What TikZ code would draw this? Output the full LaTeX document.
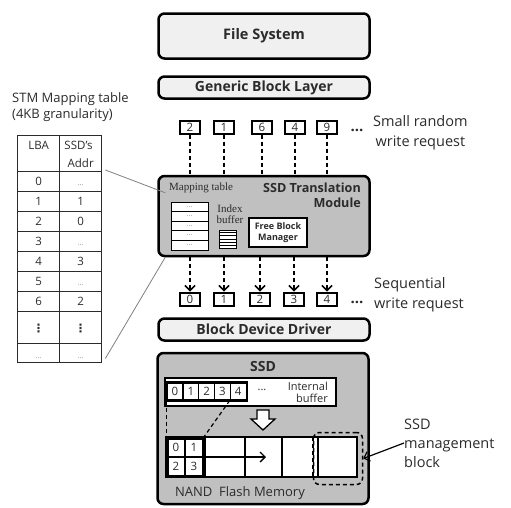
\documentclass[tikz,border=0pt]{standalone}
\usepackage{fontspec}
\usepackage{array}
\usepackage{tikz}
\setmainfont{Open Sans}
\newfontfamily\serifface{Liberation Serif}
\newfontfamily\symface{DejaVu Sans}
\usetikzlibrary{arrows.meta, positioning, calc}
\definecolor{PaleGray}{HTML}{F0F0F0}
\definecolor{BoxGray}{HTML}{C0C0C0}
\definecolor{InkGray}{HTML}{2B2B2B}
\newcolumntype{C}[1]{>{\centering\arraybackslash}p{#1}}
\newcommand{\celldots}{\leavevmode{\color{gray}\fontsize{7}{7}\selectfont\ldots}}
\newcommand{\colvdots}{{\symface\bfseries ⋮}}

\tikzset{
  layer/.style={draw=black, line width=2.5pt, rounded corners=6pt, fill=PaleGray,
                text=InkGray, font=\bfseries\fontsize{14}{16}\selectfont,
                inner sep=0pt, minimum width=211pt},
  module/.style={layer, fill=BoxGray},
  reqbox/.style={draw=black, line width=2pt, fill=white, minimum width=20pt,
                 minimum height=13pt, inner sep=0pt, text=InkGray,
                 font=\fontsize{11.5}{11.5}\selectfont},
  reqline/.style={line width=1.5pt, dash pattern=on 4pt off 3pt},
  note/.style={text=InkGray, font=\fontsize{14.5}{20}\selectfont, inner sep=0pt},
  serifnote/.style={text=InkGray, font=\serifface\fontsize{11}{11.5}\selectfont, inner sep=0pt},
  maprow/.style={draw=black, line width=1pt, fill=white, minimum width=37pt,
                 minimum height=9.6pt, inner sep=0pt},
  bufcell/.style={draw=black, line width=1.2pt, fill=white, minimum width=15.8pt,
                  minimum height=17pt, inner sep=0pt, text=InkGray,
                  font=\fontsize{11.5}{11.5}\selectfont},
  pgcell/.style={draw=black, line width=1.2pt, minimum width=17pt, minimum height=18pt,
                 inner sep=0pt, text=InkGray, font=\fontsize{11.5}{11.5}\selectfont},
  barb/.tip={Straight Barb[length=5pt, width=10pt]}
}

\begin{document}
\begin{tikzpicture}[x=1pt, y=-1pt]
\useasboundingbox (0,0) rectangle (511,507);

% host side layers
\node[layer, minimum height=45pt, font=\bfseries\fontsize{14.5}{16}\selectfont] (fs) at (264,36) {File System};
\node[layer, minimum height=22pt] (gbl) at (264,87.5) {Generic Block Layer};
\node[module, minimum height=80pt] (stm) at (264,216) {};
\node[layer, minimum height=22pt] (bdd) at (264,329.5) {Block Device Driver};
\node[module, minimum height=151pt] (ssd) at (263,428.5) {};

% random requests
\foreach \n/\x/\s in {1/190/2, 2/224/1, 3/262/6, 4/295/4, 5/327/9} {
  \node[reqbox] (rnd\n) at (\x,127) {\s};
  \draw[reqline] (rnd\n.south) -- (rnd\n.south |- stm.north);
}
\node[anchor=base, text=InkGray, font=\bfseries\fontsize{15}{15}\selectfont] (rnddots) at (357,131) {...};
\node[note, anchor=west, align=center] (rndnote) at (373,133) {Small random\\write request};

% sequential requests
\foreach \n/\x in {0/190, 1/224, 2/260, 3/294, 4/327} {
  \node[reqbox] (seq\n) at (\x,299) {\n};
  \draw[reqline, -barb] (seq\n.north |- stm.south) -- (seq\n.north);
}
\node[anchor=base, text=InkGray, font=\bfseries\fontsize{15}{15}\selectfont] (seqdots) at (357,303) {...};
\node[note, anchor=west, align=left] (seqnote) at (374,295) {Sequential\\write request};

% inside the translation module
\node[serifnote, anchor=west] (maptitle) at (169,188) {Mapping table};
\foreach \r in {0,...,4}
  \node[maprow] (row\r) at (189.5,{206.8+9.6*\r}) {\celldots};
\node[serifnote, align=center] (idxnote) at (230,214) {Index\\buffer};
\node[draw=black, fill=white, line width=1pt, minimum width=17pt, minimum height=18pt] (idxbuf) at (228,239) {};
\foreach \k in {1,...,5}
  \draw[line width=1pt] ($(idxbuf.north west)!\k/6!(idxbuf.south west)$) -- ($(idxbuf.north east)!\k/6!(idxbuf.south east)$);
\node[draw=black, fill=white, line width=2pt, minimum width=58pt, minimum height=29pt,
      inner sep=0pt, align=center, text=InkGray, font=\bfseries\fontsize{9}{10.5}\selectfont]
      (fbm) at (278,232.5) {Free Block\\Manager};
\node[anchor=north east, align=right, text=InkGray, font=\bfseries\fontsize{12.6}{15}\selectfont,
      inner sep=0pt] (stmlabel) at (361,183) {SSD Translation\\Module};

% mapping table on the left
\node[note, anchor=west, align=left, font=\fontsize{13}{16.5}\selectfont] (tabtitle) at (12,107)
  {STM Mapping table\\(4KB granularity)};
\node[anchor=north west, inner sep=0pt, text=InkGray, font=\fontsize{11.5}{13}\selectfont] (maptab) at (17,135) {%
  \setlength{\tabcolsep}{0pt}\setlength{\arrayrulewidth}{1pt}%
  \begin{tabular}{|C{41pt}|C{41pt}|}
  \hline
  \rule[-20pt]{0pt}{33pt}LBA & \rule{0pt}{13pt}SSD's\newline\rule[-2pt]{0pt}{19pt}Addr \\ \hline
  \rule[-6pt]{0pt}{19pt}0 & \celldots \\ \hline
  \rule[-6pt]{0pt}{19pt}1 & 1 \\ \hline
  \rule[-6pt]{0pt}{19pt}2 & 0 \\ \hline
  \rule[-6pt]{0pt}{19pt}3 & \celldots \\ \hline
  \rule[-6pt]{0pt}{19pt}4 & 3 \\ \hline
  \rule[-6pt]{0pt}{19pt}5 & \celldots \\ \hline
  \rule[-6pt]{0pt}{19pt}6 & 2 \\ \hline
  \rule[-11pt]{0pt}{31pt}\colvdots & \colvdots \\ \hline
  \rule[-4pt]{0pt}{18pt}\celldots & \celldots \\ \hline
  \end{tabular}};
\draw[gray, line width=0.8pt] ($(maptab.north east)+(3,35)$) -- ($(stm.north west)+(8,18)$);
\draw[gray, line width=0.8pt] ($(maptab.south east)+(3,-5)$) -- ($(stm.south west)+(8,0)$);

% inside the SSD
\node[text=InkGray, font=\bfseries\fontsize{14}{14}\selectfont] (ssdlabel) at (263,366) {SSD};
\node[draw=black, fill=white, line width=2pt, minimum width=171pt, minimum height=28pt,
      inner sep=0pt] (ibuf) at (250.5,392) {};
\foreach \k in {0,...,4}
  \node[bufcell] (cell\k) at ({175+15.8*\k},391.5) {\k};
\draw[line width=2pt] (cell0.north west) rectangle (cell4.south east);
\node[text=InkGray, font=\fontsize{11}{11}\selectfont] (ibufdots) at (262,390) {...};
\node[anchor=east, align=right, inner sep=0pt, text=InkGray, font=\fontsize{11}{12}\selectfont]
  (ibufnote) at (328,392) {Internal\\buffer};
\draw[line width=1.3pt, fill=white] (257,410) -- (269,410) -- (269,419) -- (275,419)
  -- (263,430) -- (251,419) -- (257,419) -- cycle;

\node[draw=black, line width=2pt, fill=white, minimum width=191pt, minimum height=40pt,
      inner sep=0pt] (nand) at (261.5,457) {};
\foreach \x in {205,245,282,318}
  \draw[line width=2pt] (\x,437) -- (\x,477);
\draw[reqline] (313,437) -- (313,477);
\node[draw=black, line width=2pt, minimum width=35pt, minimum height=37pt, inner sep=0pt] (pg) at (185,457) {};
\foreach \t/\x/\y in {0/176/447.5, 1/194/447.5, 2/176/466.5, 3/194/466.5}
  \node[pgcell] (pg\t) at (\x,\y) {\t};
\draw[line width=1.3pt, -barb] (pg.center) -- (266,457);
\draw[line width=1.2pt, dash pattern=on 4pt off 3pt] (cell0.south west) -- (pg.north west);
\draw[line width=1.2pt, dash pattern=on 4pt off 3pt] (cell4.south west) -- (pg.north east);
\node[draw=black, reqline, rounded corners=6pt, minimum width=49pt, minimum height=52pt,
      inner sep=0pt] (mgmt) at (338,458.5) {};
\node[text=InkGray, font=\fontsize{13}{13}\selectfont] (nandlabel) at (240,493) {NAND\ \ Flash Memory};
\node[note, anchor=west, align=left, font=\fontsize{14.5}{19}\selectfont] (mgmtnote) at (404,443)
  {SSD\\management\\block};
\draw[line width=1.2pt, -barb] (mgmtnote.west) -- (mgmt.east);
\end{tikzpicture}
\end{document}
